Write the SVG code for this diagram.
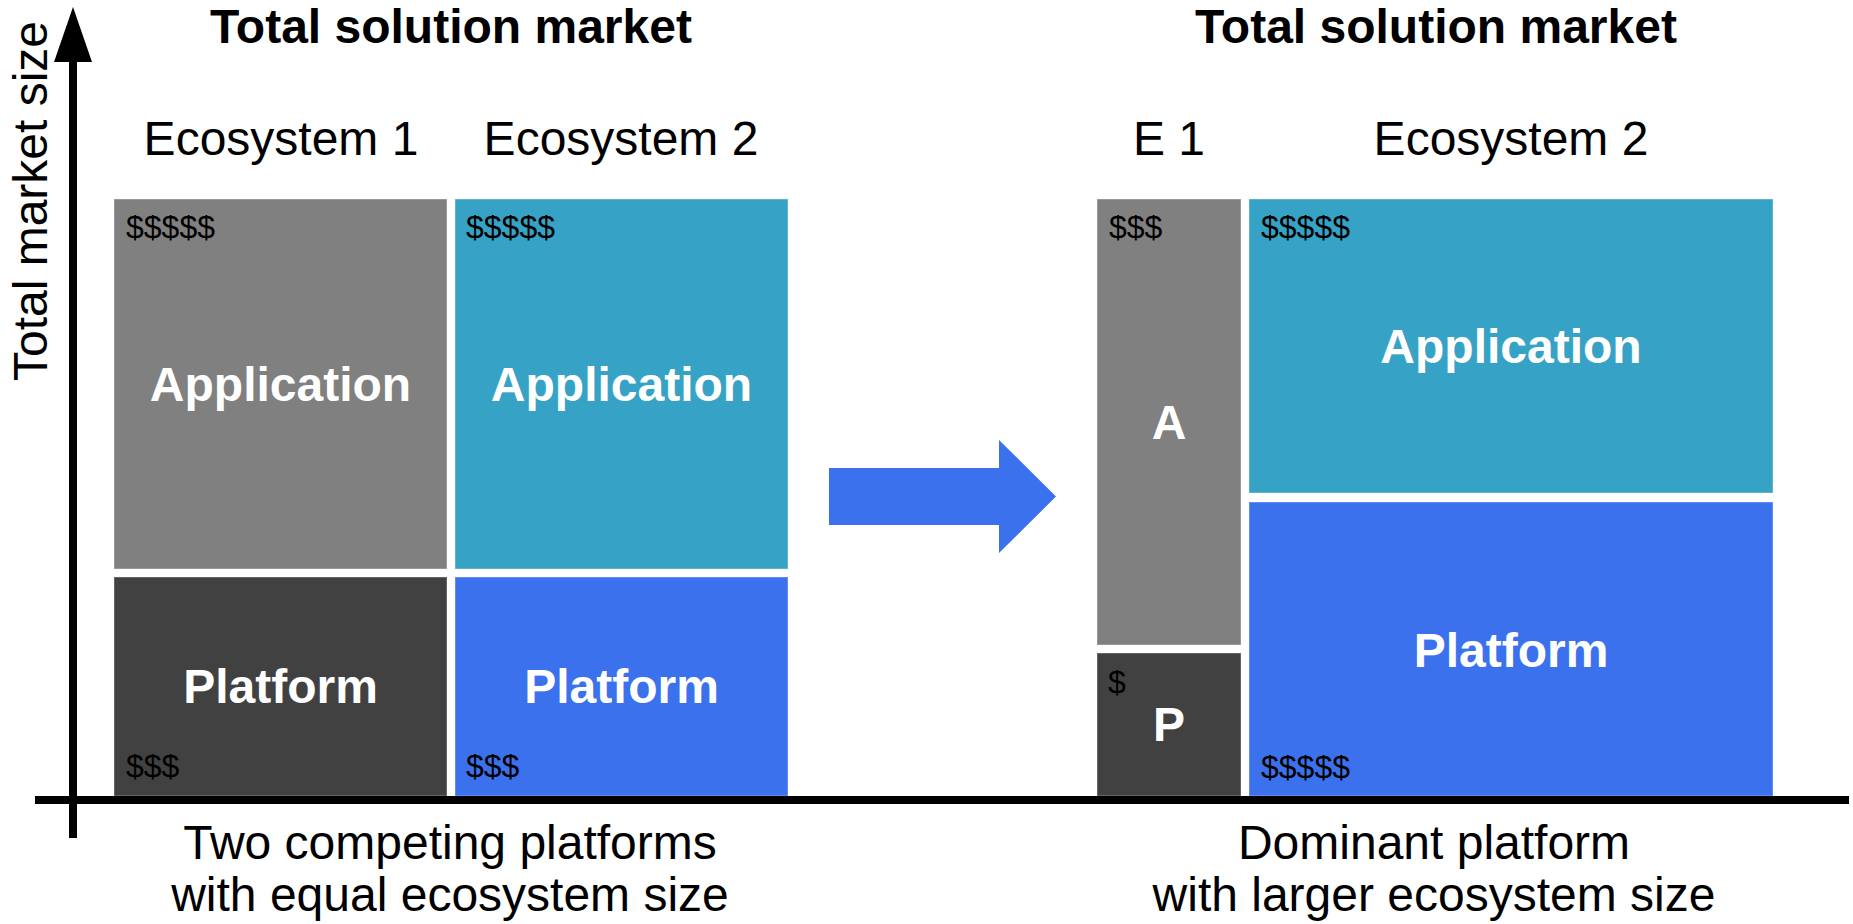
<svg xmlns="http://www.w3.org/2000/svg" width="1853" height="924" viewBox="0 0 1853 924">
  <style>
    text { font-family: "Liberation Sans", Arial, sans-serif; fill: #000; }
    .title { font-size: 48px; font-weight: bold; text-anchor: middle; }
    .eco { font-size: 48px; text-anchor: middle; }
    .caption { font-size: 48px; text-anchor: middle; }
    .label { font-size: 48px; font-weight: bold; fill: #fff; text-anchor: middle; }
    .money { font-size: 32px; }
    .gray { fill: #808080; }
    .dark { fill: #414141; }
    .teal { fill: #36A3C6; }
    .blue { fill: #3C71ED; }
    .block { stroke: #ffffff; stroke-opacity: 0.25; stroke-width: 1.5; }
  </style>

  <rect width="1853" height="924" fill="#ffffff"/>

  <!-- Left: two competing platforms -->
  <text class="title" x="451" y="43">Total solution market</text>
  <text class="eco" x="281" y="155">Ecosystem 1</text>
  <text class="eco" x="621" y="155">Ecosystem 2</text>

  <g id="left-e1-application">
    <rect class="block gray" x="114" y="199" width="333" height="370"/>
    <text class="money" x="126" y="238">$$$$$</text>
    <text class="label" x="280.5" y="401">Application</text>
  </g>
  <g id="left-e1-platform">
    <rect class="block dark" x="114" y="577" width="333" height="219"/>
    <text class="label" x="280.5" y="703">Platform</text>
    <text class="money" x="126" y="777">$$$</text>
  </g>
  <g id="left-e2-application">
    <rect class="block teal" x="455" y="199" width="333" height="370"/>
    <text class="money" x="466" y="238">$$$$$</text>
    <text class="label" x="621.5" y="401">Application</text>
  </g>
  <g id="left-e2-platform">
    <rect class="block blue" x="455" y="577" width="333" height="219"/>
    <text class="label" x="621.5" y="703">Platform</text>
    <text class="money" x="466" y="777">$$$</text>
  </g>

  <text class="caption" x="450" y="859">Two competing platforms</text>
  <text class="caption" x="450" y="911">with equal ecosystem size</text>

  <!-- Transition arrow -->
  <g id="transition">
    <polygon fill="#3C71ED" points="829,468 999,468 999,440 1056,496.5 999,553 999,525 829,525"/>
  </g>

  <!-- Right: dominant platform -->
  <text class="title" x="1436" y="43">Total solution market</text>
  <text class="eco" x="1169" y="155">E 1</text>
  <text class="eco" x="1511" y="155">Ecosystem 2</text>

  <g id="right-e1-application">
    <rect class="block gray" x="1097" y="199" width="144" height="446"/>
    <text class="money" x="1109" y="238">$$$</text>
    <text class="label" x="1169" y="439">A</text>
  </g>
  <g id="right-e1-platform">
    <rect class="block dark" x="1097" y="653" width="144" height="143"/>
    <text class="money" x="1108" y="693">$</text>
    <text class="label" x="1169" y="741">P</text>
  </g>
  <g id="right-e2-application">
    <rect class="block teal" x="1249" y="199" width="524" height="294"/>
    <text class="money" x="1261" y="238">$$$$$</text>
    <text class="label" x="1511" y="363">Application</text>
  </g>
  <g id="right-e2-platform">
    <rect class="block blue" x="1249" y="502" width="524" height="294"/>
    <text class="label" x="1511" y="667">Platform</text>
    <text class="money" x="1261" y="778">$$$$$</text>
  </g>

  <text class="caption" x="1434" y="859">Dominant platform</text>
  <text class="caption" x="1434" y="911">with larger ecosystem size</text>

  <!-- Axes -->
  <g id="axes">
    <line x1="73" y1="60" x2="73" y2="838" stroke="#000" stroke-width="8"/>
    <polygon fill="#000" points="73,7 92,62 54,62"/>
    <line x1="35" y1="800" x2="1849" y2="800" stroke="#000" stroke-width="8"/>
    <text class="eco" transform="translate(47,201) rotate(-90)">Total market size</text>
  </g>
</svg>
